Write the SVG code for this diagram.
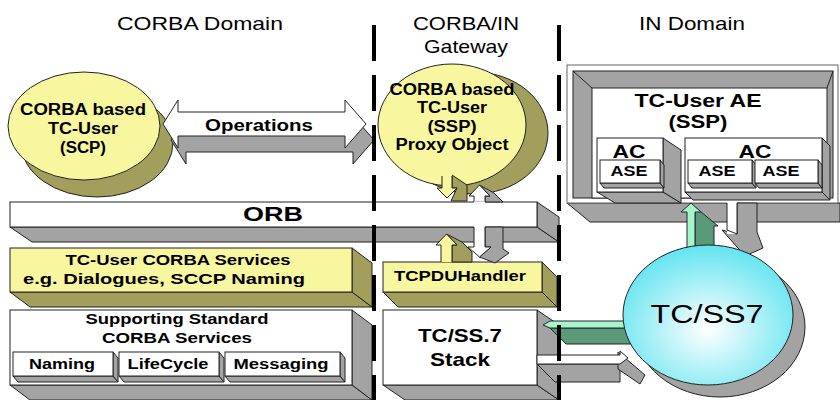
<svg xmlns="http://www.w3.org/2000/svg" width="840" height="400" viewBox="0 0 840 400">
<defs>
<radialGradient id="cyan" cx="50%" cy="60%" r="60%">
<stop offset="0" stop-color="#ffffff"/>
<stop offset="1" stop-color="#62e4f0"/>
</radialGradient>
<style>
text{font-family:"Liberation Sans",Arial,sans-serif;fill:#000;text-anchor:middle}
.b{font-weight:bold}
.ti{font-size:19px}
.wf{fill:#fff;stroke:#222;stroke-width:1}
.gx{fill:#a3a3a3;stroke:#222;stroke-width:1}
.yf{fill:#f8f69e;stroke:#222;stroke-width:1}
.ox{fill:#a29e5c;stroke:#222;stroke-width:1}
.lg{fill:#a6f5c6;stroke:#224;stroke-width:1}
.dg{fill:#5b9a78;stroke:#222;stroke-width:1}
.sep{stroke:#000;stroke-width:4;stroke-dasharray:36 14}
</style>
</defs>
<rect width="840" height="400" fill="#fff"/>

<g id="titles">
<text class="ti" x="200" y="30" textLength="166" lengthAdjust="spacingAndGlyphs">CORBA Domain</text>
<text class="ti" x="466" y="30" textLength="106" lengthAdjust="spacingAndGlyphs">CORBA/IN</text>
<text class="ti" x="466" y="53" textLength="84" lengthAdjust="spacingAndGlyphs">Gateway</text>
<text class="ti" x="692" y="30" textLength="106" lengthAdjust="spacingAndGlyphs">IN Domain</text>
</g>

<g id="node-scp">
<ellipse cx="97" cy="143" rx="76" ry="54" class="ox"/>
<ellipse cx="84" cy="126" rx="76" ry="54" class="yf"/>
<text class="b" x="83" y="115" font-size="16" textLength="126" lengthAdjust="spacingAndGlyphs">CORBA based</text>
<text class="b" x="83" y="134" font-size="16" textLength="70" lengthAdjust="spacingAndGlyphs">TC-User</text>
<text class="b" x="83" y="153" font-size="16" textLength="46" lengthAdjust="spacingAndGlyphs">(SCP)</text>
</g>

<g id="node-proxy">
<ellipse cx="474" cy="133" rx="74" ry="61" class="ox"/>
<ellipse cx="452" cy="125" rx="74" ry="61" class="yf"/>
<text class="b" x="452" y="95" font-size="16" textLength="125" lengthAdjust="spacingAndGlyphs">CORBA based</text>
<text class="b" x="452" y="113" font-size="16" textLength="70" lengthAdjust="spacingAndGlyphs">TC-User</text>
<text class="b" x="452" y="132" font-size="16" textLength="49" lengthAdjust="spacingAndGlyphs">(SSP)</text>
<text class="b" x="452" y="150" font-size="16" textLength="113" lengthAdjust="spacingAndGlyphs">Proxy Object</text>
</g>

<g id="node-orb">
<polygon points="10,227 537,227 559,242 32,242" class="gx"/>
<polygon points="537,202 559,217 559,242 537,227" class="gx"/>
<rect x="10" y="202" width="527" height="25" class="wf"/>
<text class="b" x="273" y="221" font-size="21" textLength="60" lengthAdjust="spacingAndGlyphs">ORB</text>
</g>

<g id="node-tcuser-services">
<polygon points="10,292 352,292 372,307 30,307" class="ox"/>
<polygon points="352,248 372,263 372,307 352,292" class="ox"/>
<rect x="10" y="248" width="342" height="44" class="yf"/>
<text class="b" x="178" y="265" font-size="15" textLength="225" lengthAdjust="spacingAndGlyphs">TC-User CORBA Services</text>
<text class="b" x="164" y="284" font-size="15" textLength="282" lengthAdjust="spacingAndGlyphs">e.g. Dialogues, SCCP Naming</text>
</g>

<g id="node-supporting">
<polygon points="10,385 352,385 372,400 30,400" class="gx"/>
<polygon points="352,310 372,325 372,400 352,385" class="gx"/>
<rect x="10" y="310" width="342" height="75" class="wf"/>
<text class="b" x="177" y="324" font-size="15" textLength="183" lengthAdjust="spacingAndGlyphs">Supporting Standard</text>
<text class="b" x="177" y="343" font-size="15" textLength="150" lengthAdjust="spacingAndGlyphs">CORBA Services</text>
<g id="node-naming">
<polygon points="13,376 113,376 118,382 18,382" class="gx"/>
<polygon points="113,352 118,358 118,382 113,376" class="gx"/>
<rect x="13" y="352" width="100" height="24" class="wf"/>
<text class="b" x="62" y="369" font-size="14" textLength="66" lengthAdjust="spacingAndGlyphs">Naming</text>
</g>
<g id="node-lifecycle">
<polygon points="119,376 219,376 224,382 124,382" class="gx"/>
<polygon points="219,352 224,358 224,382 219,376" class="gx"/>
<rect x="119" y="352" width="100" height="24" class="wf"/>
<text class="b" x="168" y="369" font-size="14" textLength="81" lengthAdjust="spacingAndGlyphs">LifeCycle</text>
</g>
<g id="node-messaging">
<polygon points="225,376 340,376 345,382 230,382" class="gx"/>
<polygon points="340,352 345,358 345,382 340,376" class="gx"/>
<rect x="225" y="352" width="115" height="24" class="wf"/>
<text class="b" x="281" y="369" font-size="14" textLength="95" lengthAdjust="spacingAndGlyphs">Messaging</text>
</g>
</g>

<g id="node-tcpdu">
<polygon points="383,292 542,292 557,307 398,307" class="ox"/>
<polygon points="542,262 557,277 557,307 542,292" class="ox"/>
<rect x="383" y="262" width="159" height="30" class="yf"/>
<text class="b" x="460" y="281" font-size="15" textLength="132" lengthAdjust="spacingAndGlyphs">TCPDUHandler</text>
</g>

<g id="node-stack">
<polygon points="383,385 537,385 559,400 405,400" class="gx"/>
<polygon points="537,310 559,325 559,400 537,385" class="gx"/>
<rect x="383" y="310" width="154" height="75" class="wf"/>
<text class="b" x="460" y="342" font-size="19" textLength="84" lengthAdjust="spacingAndGlyphs">TC/SS.7</text>
<text class="b" x="460" y="366" font-size="19" textLength="60" lengthAdjust="spacingAndGlyphs">Stack</text>
</g>

<g id="node-tcuser-ae">
<polygon points="567,203 840,203 840,222 590,222" class="gx"/>
<rect x="567" y="65" width="271" height="138" fill="#fff" stroke="#666"/>
<rect x="573" y="71" width="260" height="127" class="gx"/>
<rect x="592" y="88" width="235" height="110" class="wf"/>
<line x1="573" y1="71" x2="592" y2="88" stroke="#222"/>
<line x1="833" y1="71" x2="827" y2="88" stroke="#222"/>
<text class="b" x="698" y="107" font-size="19" textLength="127" lengthAdjust="spacingAndGlyphs">TC-User AE</text>
<text class="b" x="698" y="128" font-size="19" textLength="59" lengthAdjust="spacingAndGlyphs">(SSP)</text>
<g id="node-ac1">
<polygon points="597,192 663,192 681,203 615,203" class="gx"/>
<polygon points="663,138 681,150 681,203 663,192" class="gx"/>
<rect x="597" y="138" width="66" height="54" class="wf"/>
<text class="b" x="629" y="158" font-size="19" textLength="33" lengthAdjust="spacingAndGlyphs">AC</text>
<polygon points="600,183 660,183 664,188 604,188" class="gx"/>
<polygon points="660,160 664,165 664,188 660,183" class="gx"/>
<rect x="600" y="160" width="60" height="23" class="wf"/>
<text class="b" x="629" y="176" font-size="14" textLength="37" lengthAdjust="spacingAndGlyphs">ASE</text>
</g>
<g id="node-ac2">
<polygon points="685,192 822,192 830,200 693,200" class="gx"/>
<polygon points="822,138 830,146 830,200 822,192" class="gx"/>
<rect x="685" y="138" width="137" height="54" class="wf"/>
<text class="b" x="755" y="158" font-size="19" textLength="33" lengthAdjust="spacingAndGlyphs">AC</text>
<polygon points="688,183 752,183 756,188 692,188" class="gx"/>
<polygon points="752,160 756,165 756,188 752,183" class="gx"/>
<rect x="688" y="160" width="64" height="23" class="wf"/>
<text class="b" x="717" y="176" font-size="14" textLength="37" lengthAdjust="spacingAndGlyphs">ASE</text>
<polygon points="755,183 818,183 822,188 759,188" class="gx"/>
<polygon points="818,160 822,165 822,188 818,183" class="gx"/>
<rect x="755" y="160" width="63" height="23" class="wf"/>
<text class="b" x="781" y="176" font-size="14" textLength="37" lengthAdjust="spacingAndGlyphs">ASE</text>
</g>
</g>

<g id="connectors">
<g id="conn-operations">
<polygon points="171,140 186,116 186,128 353,128 353,116 374,140 353,164 353,152 186,152 186,164" class="gx"/>
<polygon points="163,124 178,100 178,112 345,112 345,100 366,124 345,148 345,136 178,136 178,148" class="wf"/>
<text class="b" x="259" y="131" font-size="17" textLength="108" lengthAdjust="spacingAndGlyphs">Operations</text>
</g>
<g id="conn-proxy-orb">
<polygon points="452,175 467,185 467,201 451,201 457,188 452,188" class="ox"/>
<polygon points="442,170 452,170 452,188 457,188 447,198 437,188 442,188" fill="#f8f69e"/>
<polyline points="442,176 442,188 437,188 447,198 457,188 452,188 452,176" fill="none" stroke="#222"/>
</g>
<g id="conn-orb-proxy-tcpdu">
<polygon points="479.5,185 494,193 503,202 485,202 485,196 490,196" class="gx"/>
<polygon points="474,202 474,196 469,196 479.5,185 490,196 485,196 485,202" class="wf"/>
<polygon points="485,227 503,227 503,249 509,253 495,263 479.5,257 491,247 485,247" class="gx"/>
<rect x="474" y="201.5" width="11" height="26" fill="#fff"/>
<polygon points="474,227 474,247 468,247 479.5,257 491,247 485,247 485,227" fill="#fff"/>
<polyline points="474,227 474,247 468,247 479.5,257 491,247 485,247 485,227" fill="none" stroke="#222"/>
</g>
<g id="conn-tcpdu-orb">
<polygon points="446.5,234 462,242 472,252 472,262 452,262 452,245 457,245" class="ox"/>
<polygon points="441,262 441,245 436,245 446.5,234 457,245 452,245 452,262" fill="#f8f69e"/>
<polyline points="441,262 441,245 436,245 446.5,234 457,245 452,245 452,262" fill="none" stroke="#222"/>
</g>
<g id="conn-ae-tcss7">
<polygon points="737,203 757,203 757,232 763,248 745,256 722,230 737,234" class="gx"/>
<rect x="727" y="202" width="10" height="32" fill="#fff"/>
<polyline points="727,203 727,230 737,234 737,203" fill="none" stroke="#222"/>
</g>
<g id="conn-tcss7-ae">
<polygon points="695,207 718,226 714,226 714,250 695,250" class="dg"/>
<polygon points="687,250 687,212 681,212 691,203 701,212 695,212 695,250" class="lg"/>
</g>
<g id="conn-tcss7-stack">
<polygon points="550,328 634,328 634,344 566,344" class="dg"/>
<polygon points="543,325 550,321 634,321 634,328 550,328" class="lg"/>
</g>
<g id="conn-stack-tcss7">
<polygon points="537,364 620,364 620,382 555,382" class="gx"/>
<polygon points="618,352 645,375 640,384 618,369" class="gx"/>
<polygon points="537,355 620,355 620,351 628,358 620,364 537,364" class="wf"/>
</g>
</g>

<g id="node-tcss7">
<ellipse cx="720" cy="327" rx="85" ry="70" fill="#a3a3a3" stroke="#222"/>
<ellipse cx="708" cy="315" rx="85" ry="70" fill="url(#cyan)" stroke="#222"/>
<text x="707" y="323" font-size="26" textLength="113" lengthAdjust="spacingAndGlyphs">TC/SS7</text>
</g>

<g id="separators">
<line x1="374" y1="25" x2="374" y2="400" class="sep"/>
<line x1="559" y1="25" x2="559" y2="400" class="sep"/>
</g>
</svg>
